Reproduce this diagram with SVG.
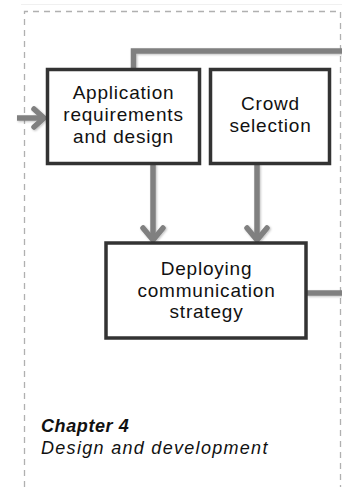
<svg xmlns="http://www.w3.org/2000/svg" width="342" height="487" viewBox="0 0 342 487">
<defs>
<style>
.box{fill:#fff;stroke:#333;stroke-width:3.5}
.lbl{font-family:"Liberation Sans",Arial,sans-serif;font-size:19px;letter-spacing:0.8px;fill:#111;text-anchor:middle}
.conn{fill:none;stroke:#808080;stroke-width:5.5}
.head{fill:none;stroke:#808080;stroke-width:5.5;stroke-linecap:round;stroke-linejoin:round}
.cap{font-family:"Liberation Sans",Arial,sans-serif;font-size:18px;fill:#111;font-style:italic}
</style>
<filter id="sh" x="-20%" y="-20%" width="140%" height="140%">
<feDropShadow dx="1" dy="1" stdDeviation="0.8" flood-color="#000" flood-opacity="0.25"/>
</filter>
</defs>
<rect width="342" height="487" fill="#fff"/>
<line x1="21" y1="4.5" x2="342" y2="4.5" stroke="#f0f0f0" stroke-width="1"/>
<path d="M24.5,487 V11.5 H340.5 V487" fill="none" stroke="#b0b0b0" stroke-width="1.3" stroke-dasharray="6,5"/>
<g id="connectors" filter="url(#sh)">
<path class="conn" d="M133.5,68 V51 H342"/>
<path class="conn" d="M17,118 H44"/>
<path class="head" d="M34,109 L44,118 L34,127"/>
<path class="conn" d="M153,164 V240"/>
<path class="head" d="M143,228 L153,240 L163,228"/>
<path class="conn" d="M257,164 V240"/>
<path class="head" d="M247,228 L257,240 L267,228"/>
<path class="conn" d="M307,293 H342"/>
</g>
<g id="n1">
<rect class="box" x="47.5" y="69.5" width="152" height="94"/>
<text class="lbl" x="123.5" y="99">Application</text>
<text class="lbl" x="123.5" y="121">requirements</text>
<text class="lbl" x="123.5" y="143">and design</text>
</g>
<g id="n2">
<rect class="box" x="210.5" y="69.5" width="119" height="94"/>
<text class="lbl" x="270.5" y="110">Crowd</text>
<text class="lbl" x="270.5" y="132">selection</text>
</g>
<g id="n3">
<rect class="box" x="106" y="243" width="200" height="95"/>
<text class="lbl" x="206.5" y="275">Deploying</text>
<text class="lbl" x="206.5" y="297">communication</text>
<text class="lbl" x="206.5" y="318">strategy</text>
</g>
<g id="caption">
<text class="cap" x="41" y="432" font-weight="bold" letter-spacing="0.6">Chapter 4</text>
<text class="cap" x="41" y="454" letter-spacing="1.3">Design and development</text>
</g>
</svg>
